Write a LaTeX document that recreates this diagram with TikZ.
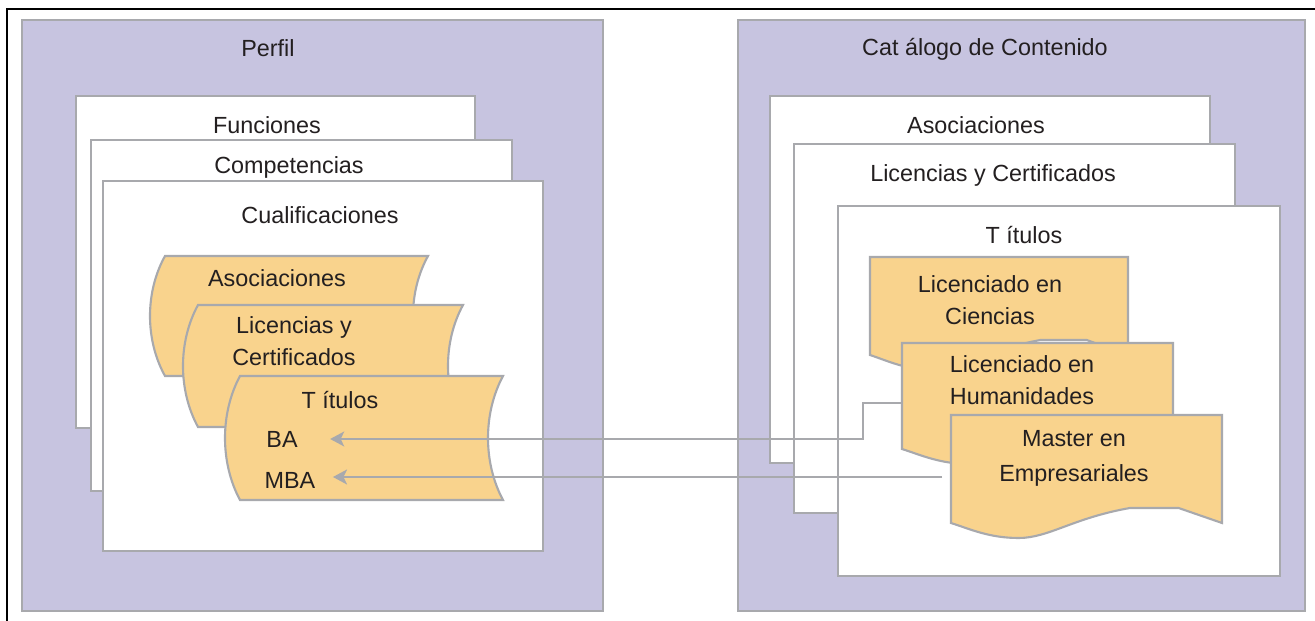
\documentclass[tikz,border=0pt]{standalone}
\usepackage{fontspec}
\setmainfont{Liberation Sans}
\usetikzlibrary{arrows.meta}

\definecolor{panelfill}{RGB}{199,196,224}
\definecolor{recfill}{RGB}{249,211,141}
\definecolor{edgegray}{RGB}{168,169,173}
\definecolor{inkgray}{RGB}{35,31,32}

% stored data outline: x, y (top left), width, height
\newcommand\storepath[4]{(#1,#2) -- ({#1+#3},#2)
  .. controls ({#1+#3-20},{#2+0.3*#4}) and ({#1+#3-20},{#2+0.7*#4}) .. ({#1+#3},{#2+#4})
  -- (#1,{#2+#4})
  .. controls ({#1-20},{#2+0.7*#4}) and ({#1-20},{#2+0.3*#4}) .. (#1,#2) -- cycle}

% document outline with a wavy foot: x, y (top left), width, height
\newcommand\docpath[4]{(#1,#2) -- ({#1+#3},#2) -- ({#1+#3},{#2+#4})
  -- ({#1+0.84*#3},{#2+#4-15}) -- ({#1+0.66*#3},{#2+#4-15})
  .. controls ({#1+0.45*#3},{#2+#4-5}) and ({#1+0.36*#3},{#2+#4+15}) .. ({#1+0.25*#3},{#2+#4+15})
  .. controls ({#1+0.14*#3},{#2+#4+15}) and ({#1+0.07*#3},{#2+#4+6}) .. (#1,{#2+#4}) -- cycle}

\begin{document}
\begin{tikzpicture}[
  x = 0.02cm, y = -0.02cm,
  every node/.style = {font = \fontsize{13.3}{18}\selectfont, text = inkgray, align = center},
  panel/.style = {draw = edgegray, line width = 1.4pt, fill = panelfill},
  sheet/.style = {draw = edgegray, line width = 1.2pt, fill = white},
  record/.style = {draw = edgegray, line width = 1.2pt, fill = recfill},
  link/.style = {draw = edgegray, line width = 1.2pt,
                 -{Stealth[length = 8pt, width = 8.5pt, inset = 2pt]}},
  ]
  \useasboundingbox (0,0) rectangle (1315,621);
  \draw[line width = 1.6pt] (7,621) -- (7,9) -- (1315,9);

  \draw[panel] (22,20) rectangle (603,611) (268,48) node (perfil) {Perfil};
  \draw[sheet] (76,96) rectangle (475,428) (267,125) node (funciones) {Funciones};
  \draw[sheet] (91,140) rectangle (512,491) (289,167) node (competencias) {Competencias};
  \draw[sheet] (103,181) rectangle (543,551) (320,215) node (cualif) {Cualificaciones};

  \draw[record] \storepath{165}{256}{263}{120} (277,278) node (asocq) {Asociaciones};
  \draw[record] \storepath{198}{305}{265}{122} (294,341) node (licq) {Licencias y\\Certificados};
  \draw[record] \storepath{240}{376}{263}{124} (340,400) node (titq) {T ítulos};
  \node (ba) at (282,439) {BA};
  \node (mba) at (290,480) {MBA};

  \draw[panel] (738,20) rectangle (1305,611) (985,49) node (catalogo) {Cat álogo de Contenido};
  \draw[sheet] (770,96) rectangle (1210,463) (976,125) node (asocc) {Asociaciones};
  \draw[sheet] (794,144) rectangle (1235,513) (993,175) node (licc) {Licencias y Certificados};
  \draw[sheet] (838,206) rectangle (1280,576) (1024,235) node (titc) {T ítulos};

  \draw[record] \docpath{870}{257}{258}{98} (990,300) node (ciencias) {Licenciado en\\Ciencias};
  \draw[record] \docpath{902}{343}{271}{106} (1022,380) node (human) {Licenciado en\\Humanidades};
  \draw[record] \docpath{951}{415}{271}{108} (1074,458) node[font = \fontsize{13.3}{20}\selectfont] (master) {Master en\\Empresariales};

  \coordinate (humin) at (902,403);
  \coordinate (mastin) at (942,477);
  \draw[link, shorten > = 15pt] (humin) -- ++(-39,0) |- (ba);
  \draw[link, shorten > = 6.5pt] (mastin) -- (mastin -| mba.east);
\end{tikzpicture}
\end{document}
